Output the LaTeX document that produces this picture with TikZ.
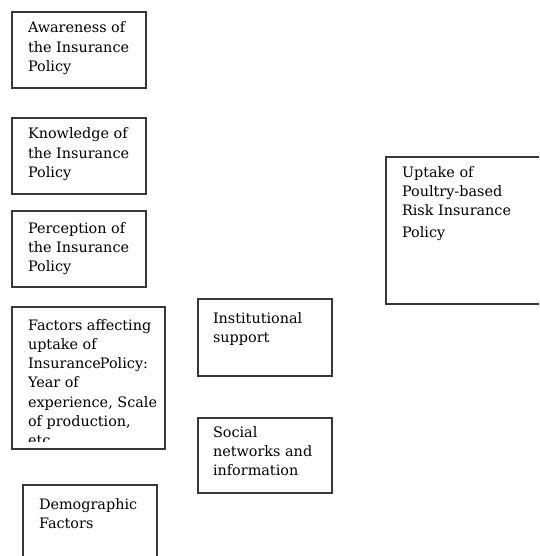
\documentclass[tikz,border=0pt]{standalone}
\usepackage{fontspec}
\setmainfont{DejaVu Serif}
\newcommand\boxlines[1]{\vtop{\baselineskip=19.3pt\lineskiplimit=-20pt\halign{##\hfil\cr #1\crcr}}}
\begin{document}
\begin{tikzpicture}[x=1pt,y=-1pt,
  box/.style={draw=black!78,line width=1.3pt,rectangle,inner sep=0pt,outer sep=0pt,anchor=north west},
  lbl/.style={inner sep=0pt,outer sep=0pt,anchor=base west,font=\fontsize{14.4}{19.3}\selectfont,text=black}]
\useasboundingbox (0,0) rectangle (539,556);
\clip (0,0) rectangle (539,556);
% boxes
\node[box,minimum width=134pt,minimum height=76pt] (aw) at (12,12) {};
\node[box,minimum width=134pt,minimum height=76pt] (kn) at (12,118) {};
\node[box,minimum width=134pt,minimum height=76pt] (pe) at (12,211) {};
\node[box,minimum width=153pt,minimum height=142pt] (fa) at (12,307) {};
\node[box,minimum width=134pt,minimum height=90pt] (de) at (23,485) {};
\node[box,minimum width=134pt,minimum height=77pt] (in) at (198,299) {};
\node[box,minimum width=134pt,minimum height=75pt] (so) at (198,418) {};
\node[box,minimum width=170pt,minimum height=147pt] (up) at (386,157) {};
% labels
\node[lbl] (awt) at ([xshift=16pt,yshift=-21pt]aw.north west) {\boxlines{Awareness of\cr the Insurance\cr Policy}};
\node[lbl] (knt) at ([xshift=16pt,yshift=-21pt]kn.north west) {\boxlines{Knowledge of\cr the Insurance\cr Policy}};
\node[lbl] (pet) at ([xshift=16pt,yshift=-22pt]pe.north west) {\boxlines{Perception of\cr the Insurance\cr Policy}};
\begin{scope}
\clip (14,309) rectangle (163,441);
\node[lbl] (fat) at ([xshift=16pt,yshift=-23pt]fa.north west) {\boxlines{Factors affecting\cr uptake of\cr Insurance\kern-1ptPolicy:\cr Year of\cr experience, Scale\cr of production,\cr etc.}};
\end{scope}
\node[lbl] (det) at ([xshift=16pt,yshift=-24pt]de.north west) {\boxlines{Demographic\cr Factors}};
\node[lbl] (int) at ([xshift=15pt,yshift=-24pt]in.north west) {\boxlines{Institutional\cr support}};
\node[lbl] (sot) at ([xshift=15pt,yshift=-19pt]so.north west) {\boxlines{Social\cr networks and\cr information}};
\node[lbl] (upt) at ([xshift=16pt,yshift=-20pt]up.north west) {\boxlines{Uptake of\cr Poultry-based\cr Risk Insurance\cr\noalign{\vskip3pt} Policy}};
\end{tikzpicture}
\end{document}
